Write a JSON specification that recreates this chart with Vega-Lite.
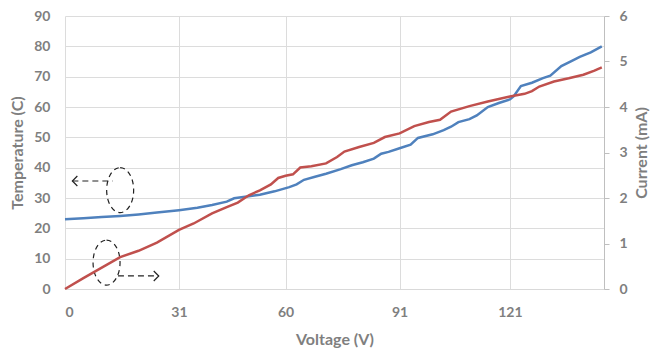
{
  "$schema": "https://vega.github.io/schema/vega-lite/v6.json",
  "width": 539,
  "height": 273,
  "autosize": {"type": "none"},
  "padding": {"left": 65, "top": 16, "right": 63, "bottom": 62},
  "background": "white",
  "config": {
    "view": {"stroke": null},
    "font": "Lato",
    "axis": {
      "labelFont": "Lato", "labelFontWeight": "bold", "labelFontSize": 14, "labelColor": "#7f7f7f",
      "titleFont": "Lato", "titleFontWeight": "bold", "titleFontSize": 16, "titleColor": "#7f7f7f",
      "gridColor": "#dcdcdc", "gridWidth": 1
    }
  },
  "datasets": {
    "temp": [
      {"V": 0, "T": 23.0}, {"V": 5, "T": 23.3}, {"V": 10, "T": 23.7}, {"V": 15, "T": 24.1},
      {"V": 20, "T": 24.6}, {"V": 25, "T": 25.2}, {"V": 31, "T": 26.0}, {"V": 36, "T": 26.8},
      {"V": 40, "T": 27.7}, {"V": 44, "T": 28.8}, {"V": 46, "T": 29.9}, {"V": 49, "T": 30.4},
      {"V": 53, "T": 31.1}, {"V": 57, "T": 32.2}, {"V": 61, "T": 33.6}, {"V": 63, "T": 34.5},
      {"V": 65, "T": 36.0}, {"V": 68, "T": 37.0}, {"V": 71, "T": 38.0}, {"V": 75, "T": 39.5},
      {"V": 78, "T": 40.8}, {"V": 81, "T": 41.8}, {"V": 84, "T": 43.0}, {"V": 86, "T": 44.6},
      {"V": 88, "T": 45.2}, {"V": 91, "T": 46.4}, {"V": 94, "T": 47.6}, {"V": 96, "T": 49.8},
      {"V": 100, "T": 51.0}, {"V": 103, "T": 52.4}, {"V": 105, "T": 53.5}, {"V": 107, "T": 55.0},
      {"V": 110, "T": 56.0}, {"V": 112, "T": 57.2}, {"V": 115, "T": 60.0}, {"V": 118, "T": 61.3},
      {"V": 121, "T": 62.5}, {"V": 122, "T": 63.5}, {"V": 124, "T": 66.9}, {"V": 127, "T": 68.0},
      {"V": 130, "T": 69.5}, {"V": 132, "T": 70.3}, {"V": 135, "T": 73.5}, {"V": 138, "T": 75.3},
      {"V": 140, "T": 76.5}, {"V": 143, "T": 78.0}, {"V": 146, "T": 80.0}
    ],
    "current": [
      {"V": 0, "I": 0}, {"V": 5, "I": 0.24}, {"V": 10, "I": 0.47}, {"V": 15, "I": 0.70},
      {"V": 20, "I": 0.84}, {"V": 25, "I": 1.02}, {"V": 31, "I": 1.30}, {"V": 35, "I": 1.44},
      {"V": 40, "I": 1.66}, {"V": 44, "I": 1.80}, {"V": 47, "I": 1.90}, {"V": 50, "I": 2.06},
      {"V": 53, "I": 2.17}, {"V": 56, "I": 2.30}, {"V": 58, "I": 2.44}, {"V": 60, "I": 2.49},
      {"V": 62, "I": 2.52}, {"V": 64, "I": 2.67}, {"V": 67, "I": 2.70}, {"V": 71, "I": 2.76},
      {"V": 74, "I": 2.90}, {"V": 76, "I": 3.02}, {"V": 80, "I": 3.12}, {"V": 84, "I": 3.21},
      {"V": 87, "I": 3.34}, {"V": 91, "I": 3.42}, {"V": 95, "I": 3.58}, {"V": 99, "I": 3.67},
      {"V": 102, "I": 3.72}, {"V": 105, "I": 3.90}, {"V": 110, "I": 4.02}, {"V": 115, "I": 4.12},
      {"V": 121, "I": 4.23}, {"V": 125, "I": 4.29}, {"V": 127, "I": 4.35}, {"V": 129, "I": 4.45},
      {"V": 133, "I": 4.56}, {"V": 137, "I": 4.63}, {"V": 141, "I": 4.71}, {"V": 144, "I": 4.80},
      {"V": 146, "I": 4.87}
    ],
    "ellipses": [
      {"V": 15, "T": 32.6},
      {"V": 11.3, "T": 8.7}
    ],
    "arrows": [
      {"V": 2.0, "V2": 13, "T": 35.6, "dir": "left"},
      {"V": 14.4, "V2": 25.5, "T": 4.3, "dir": "right"}
    ]
  },
  "layer": [
    {
      "encoding": {
        "x": {
          "field": "V", "type": "quantitative",
          "scale": {"domain": [0, 146.6], "nice": false, "zero": false},
          "axis": {
            "values": [0, 31, 60, 91, 121], "title": "Voltage (V)", "grid": true,
            "ticks": false, "domainColor": "#d9d9d9", "labelPadding": 16, "titlePadding": 12
          }
        },
        "y": {
          "field": "T", "type": "quantitative",
          "scale": {"domain": [0, 90], "nice": false},
          "axis": {
            "values": [0, 10, 20, 30, 40, 50, 60, 70, 80, 90], "title": "Temperature (C)",
            "grid": true, "ticks": false, "domain": false, "labelPadding": 15, "titlePadding": 8
          }
        }
      },
      "layer": [
        {
          "data": {"name": "temp"},
          "mark": {"type": "line", "color": "#4F81BD", "strokeWidth": 2.5}
        },
        {
          "data": {"name": "ellipses"},
          "mark": {
            "type": "point", "shape": "M0,-1 A0.6,1 0 1,1 0,1 A0.6,1 0 1,1 0,-1 Z",
            "filled": false, "stroke": "#222222", "strokeWidth": 1.2, "strokeDash": [5, 4],
            "size": 2025, "opacity": 1
          }
        },
        {
          "data": {"name": "arrows"},
          "mark": {"type": "rule", "stroke": "#222222", "strokeWidth": 1.2, "strokeDash": [6, 4]},
          "encoding": {
            "x2": {"field": "V2"}
          }
        },
        {
          "data": {"name": "arrows"},
          "transform": [{"filter": "datum.dir == 'left'"}],
          "mark": {
            "type": "point", "shape": "M1,-1 L0,0 L1,1", "filled": false,
            "stroke": "#222222", "strokeWidth": 1.2, "size": 100, "opacity": 1
          }
        },
        {
          "data": {"name": "arrows"},
          "transform": [{"filter": "datum.dir == 'right'"}],
          "mark": {
            "type": "point", "shape": "M-1,-1 L0,0 L-1,1", "filled": false,
            "stroke": "#222222", "strokeWidth": 1.2, "size": 100, "opacity": 1
          },
          "encoding": {
            "x": {"field": "V2", "type": "quantitative"}
          }
        }
      ]
    },
    {
      "data": {"name": "current"},
      "mark": {"type": "line", "color": "#C0504D", "strokeWidth": 2.5},
      "encoding": {
        "x": {"field": "V", "type": "quantitative"},
        "y": {
          "field": "I", "type": "quantitative",
          "scale": {"domain": [0, 6], "nice": false},
          "axis": {
            "orient": "right", "values": [0, 1, 2, 3, 4, 5, 6], "title": "Current (mA)",
            "titleAngle": 270, "titleBaseline": "bottom",
            "grid": false, "ticks": true, "tickSize": 5, "tickColor": "#bfbfbf",
            "domain": true, "domainColor": "#bfbfbf", "labelPadding": 10, "titlePadding": 22
          }
        }
      }
    }
  ],
  "resolve": {"scale": {"y": "independent"}}
}
